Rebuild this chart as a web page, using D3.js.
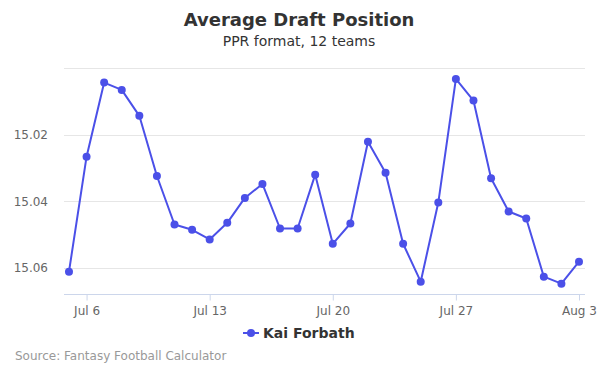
<!DOCTYPE html>
<html><head><meta charset="utf-8">
<script src="https://cdn.jsdelivr.net/npm/d3@7"></script>
<style>body{margin:0;background:#fff;font-family:"DejaVu Sans",sans-serif;}</style>
</head><body><svg id="c" width="600" height="375"></svg>
<script>
const dates = ["2019-07-05","2019-07-06","2019-07-07","2019-07-08","2019-07-09","2019-07-10","2019-07-11","2019-07-12","2019-07-13","2019-07-14","2019-07-15","2019-07-16","2019-07-17","2019-07-18","2019-07-19","2019-07-20","2019-07-21","2019-07-22","2019-07-23","2019-07-24","2019-07-25","2019-07-26","2019-07-27","2019-07-28","2019-07-29","2019-07-30","2019-07-31","2019-08-01","2019-08-02","2019-08-03"];
const adp = [15.0612,15.0266,15.0043,15.0065,15.0143,15.0324,15.0470,15.0486,15.0515,15.0465,15.0390,15.0348,15.0482,15.0482,15.0320,15.0528,15.0467,15.0221,15.0314,15.0528,15.0642,15.0404,15.0032,15.0097,15.0331,15.0431,15.0452,15.0627,15.0648,15.0582];
const yTicks = [15.02,15.04,15.06];
const gridTicks = [15.00,15.02,15.04,15.06];
const xTickDates = ["2019-07-06","2019-07-13","2019-07-20","2019-07-27","2019-08-03"];
const seriesName = "Kai Forbath";

const parse = d3.utcParse("%Y-%m-%d");
const pts = dates.map((d,i)=>({date:parse(d), v:adp[i]}));
const svg = d3.select("#c");
const L=64, R=585, T=68.3, B=294.3;
const HOUR=3600e3;
const x = d3.scaleUtc().domain([new Date(parse(dates[0]).getTime()-6.8*HOUR), new Date(parse(dates[dates.length-1]).getTime()+8.2*HOUR)]).range([L,R]);
const y = d3.scaleLinear().domain([15.0, 15.068]).range([T,B]);
const color = "#4b50e8";

svg.append("text").attr("x",299).attr("y",26).attr("text-anchor","middle").attr("font-size",18).attr("font-weight","bold").attr("fill","#333").text("Average Draft Position");
svg.append("text").attr("x",299).attr("y",46).attr("text-anchor","middle").attr("font-size",14).attr("fill","#333").text("PPR format, 12 teams");

svg.append("g").selectAll("line").data(gridTicks).join("line")
  .attr("x1",L).attr("x2",R).attr("y1",d=>Math.round(y(d))+0.5).attr("y2",d=>Math.round(y(d))+0.5)
  .attr("stroke","#e6e6e6").attr("stroke-width",1);

const ya = svg.append("g").attr("transform",`translate(${L},0)`)
  .call(d3.axisLeft(y).tickValues(yTicks).tickFormat(d3.format(".2f")).tickSize(0).tickPadding(16));
ya.select(".domain").remove();
ya.selectAll("text").attr("font-size",12).attr("fill","#666").attr("font-family","DejaVu Sans").attr("dy","0.35em");

const xa = svg.append("g").attr("transform",`translate(0,${Math.round(B)+0.5})`)
  .call(d3.axisBottom(x).tickValues(xTickDates.map(parse)).tickFormat(d3.utcFormat("%b %-d")).tickSize(6).tickPadding(6).tickSizeOuter(0));
xa.select(".domain").attr("stroke","#ccd6eb").attr("d",`M${L},0H${R}`);
xa.selectAll(".tick line").attr("stroke","#ccd6eb");
xa.selectAll("text").attr("font-size",12).attr("fill","#666").attr("font-family","DejaVu Sans");

const line = d3.line().x(d=>x(d.date)).y(d=>y(d.v));
svg.append("path").datum(pts).attr("d",line).attr("fill","none").attr("stroke",color).attr("stroke-width",2).attr("stroke-linejoin","round");
svg.append("g").selectAll("circle").data(pts).join("circle")
  .attr("cx",d=>x(d.date)).attr("cy",d=>y(d.v)).attr("r",4).attr("fill",color);

const lg = svg.append("g").attr("transform","translate(243,333)");
lg.append("line").attr("x1",0).attr("x2",16).attr("y1",0).attr("y2",0).attr("stroke",color).attr("stroke-width",2);
lg.append("circle").attr("cx",8).attr("cy",0).attr("r",4).attr("fill",color);
lg.append("text").attr("x",20).attr("y",5).attr("font-size",14).attr("font-weight","bold").attr("fill","#333").text(seriesName);

svg.append("text").attr("x",15).attr("y",360).attr("font-size",12).attr("fill","#999").text("Source: Fantasy Football Calculator");
</script></body></html>
